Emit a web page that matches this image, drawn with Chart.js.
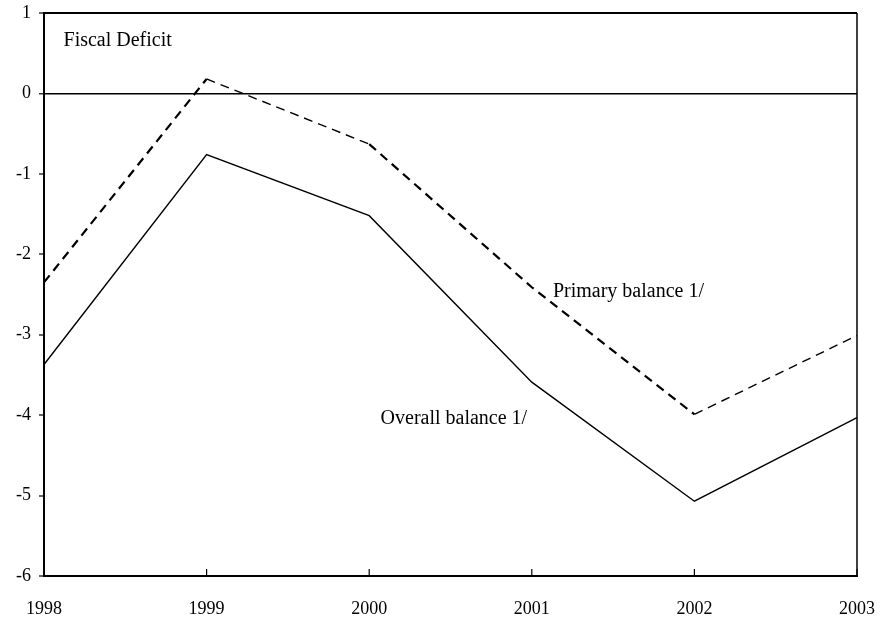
<!DOCTYPE html>
<html>
<head>
<meta charset="utf-8">
<title>Fiscal Deficit</title>
<script src="https://cdn.jsdelivr.net/npm/chart.js@4.4.1/dist/chart.umd.min.js"></script>
<style>
  body { margin: 0; background: #fff; }
  #wrap { width: 880px; height: 624px; }
</style>
</head>
<body>
<div id="wrap"><canvas id="deficitChart"></canvas></div>
<script>
const years = ['1998', '1999', '2000', '2001', '2002', '2003'];
const overallBalance = [-3.37, -0.76, -1.52, -3.59, -5.07, -4.03];
const primaryBalance = [-2.35, 0.18, -0.63, -2.41, -3.99, -3.01];
const yTicks = [1, 0, -1, -2, -3, -4, -5, -6];

// text notes placed in data units (x = category index, y = value)
const notes = [
  { text: 'Fiscal Deficit', x: 0.12, y: 0.66 },
  { text: 'Primary balance 1/', x: 3.13, y: -2.47 },
  { text: 'Overall balance 1/', x: 2.07, y: -4.04 }
];

const serif = '"Liberation Serif", "Times New Roman", serif';

// frame, inward year ticks and the text notes
const framePlugin = {
  id: 'frame',
  afterDraw(chart) {
    const { ctx, chartArea: a, scales } = chart;
    ctx.save();
    ctx.strokeStyle = '#000';
    ctx.lineWidth = 2;
    ctx.beginPath();
    ctx.moveTo(a.left, a.top);
    ctx.lineTo(a.right, a.top);
    ctx.stroke();
    ctx.lineWidth = 1.5;
    ctx.beginPath();
    ctx.moveTo(a.right, a.top);
    ctx.lineTo(a.right, a.bottom);
    ctx.stroke();

    ctx.lineWidth = 1.2;
    scales.x.ticks.forEach((t, i) => {
      const px = scales.x.getPixelForTick(i);
      ctx.beginPath();
      ctx.moveTo(px, a.bottom);
      ctx.lineTo(px, a.bottom - 7);
      ctx.stroke();
    });

    ctx.fillStyle = '#000';
    ctx.font = '20px ' + serif;
    ctx.textBaseline = 'middle';
    ctx.textAlign = 'left';
    notes.forEach(n => {
      ctx.fillText(n.text, scales.x.getPixelForValue(n.x), scales.y.getPixelForValue(n.y));
    });
    ctx.restore();
  }
};

new Chart(document.getElementById('deficitChart'), {
  type: 'line',
  data: {
    labels: years,
    datasets: [
      {
        label: 'Primary balance 1/',
        data: primaryBalance,
        borderColor: '#000',
        borderWidth: 1.8,
        borderDash: [9, 6],
        pointRadius: 0,
        fill: false,
        tension: 0,
        segment: {
          borderWidth: c => Math.abs(c.p1.parsed.y - c.p0.parsed.y) > 1 ? 2.2 : 1.4
        }
      },
      {
        label: 'Overall balance 1/',
        data: overallBalance,
        borderColor: '#000',
        borderWidth: 1.4,
        pointRadius: 0,
        fill: false,
        tension: 0
      }
    ]
  },
  options: {
    responsive: true,
    maintainAspectRatio: false,
    animation: false,
    layout: { padding: 0 },
    plugins: {
      legend: { display: false },
      tooltip: { enabled: false }
    },
    scales: {
      x: {
        offset: false,
        grid: { display: false },
        border: { color: '#000', width: 2 },
        ticks: {
          color: '#000',
          font: { family: serif, size: 18 },
          padding: 14,
          maxRotation: 0,
          autoSkip: false
        },
        afterFit(scale) {
          scale.height = 48;
          scale.paddingLeft = 0;
          scale.paddingRight = 23;
        }
      },
      y: {
        min: -6,
        max: 1,
        afterBuildTicks(scale) {
          scale.ticks = yTicks.map(v => ({ value: v }));
        },
        grid: {
          drawTicks: true,
          tickLength: 5,
          tickColor: '#000',
          tickWidth: 1.2,
          color: c => (c.tick && c.tick.value === 0) ? '#000' : 'rgba(0,0,0,0)',
          lineWidth: c => (c.tick && c.tick.value === 0) ? 1.6 : 0
        },
        border: { color: '#000', width: 2 },
        ticks: {
          color: '#000',
          font: { family: serif, size: 18 },
          padding: 8
        },
        afterFit(scale) {
          scale.width = 44;
          scale.paddingTop = 13;
          scale.paddingBottom = 0;
        }
      }
    }
  },
  plugins: [framePlugin]
});
</script>
</body>
</html>
